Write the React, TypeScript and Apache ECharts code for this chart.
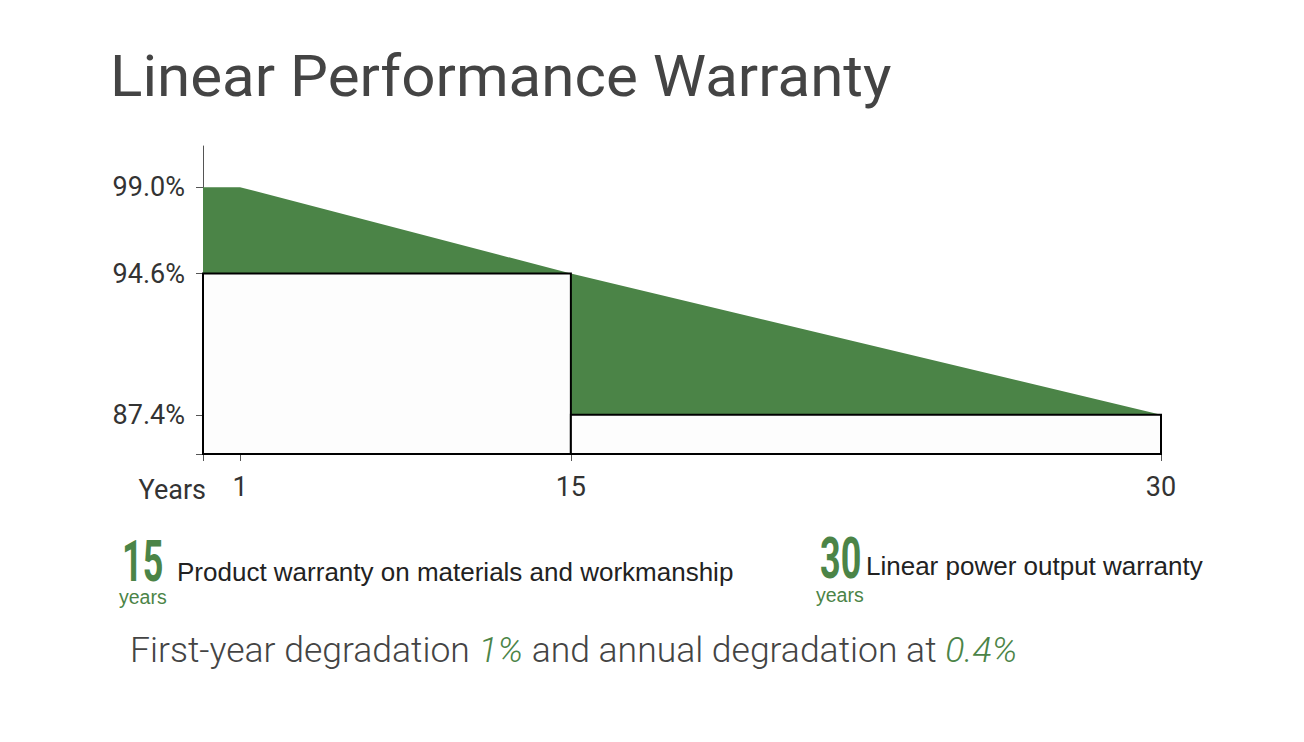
import React, { useEffect, useRef } from "react";
import * as echarts from "echarts";

// ---- data ----
const warrantyYears = [0, 1, 15, 30];
const warrantyValues = [99.0, 99.0, 94.6, 87.4];
const boxStartYears = [0, 15];
const boxEndYears = [15, 30];
const boxTopValues = [94.6, 87.4];
const yTickValues = [87.4, 94.6, 99.0];
const xTickYears = [1, 15, 30];
const yMin = 85.4;
const yMax = 101.1;

// non-uniform year scale of the original drawing (year -> axis unit)
const scaleYears = [0, 1, 15, 30];
const scaleUnits = [0, 1.16, 11.52, 30];
function warp(year: number): number {
  for (let i = 1; i < scaleYears.length; i++) {
    if (year <= scaleYears[i]) {
      const t = (year - scaleYears[i - 1]) / (scaleYears[i] - scaleYears[i - 1]);
      return scaleUnits[i - 1] + t * (scaleUnits[i] - scaleUnits[i - 1]);
    }
  }
  return scaleUnits[scaleUnits.length - 1];
}
function unwarpLabel(v: number): string {
  let best = 0;
  let bd = Infinity;
  scaleYears.forEach((y) => {
    const d = Math.abs(warp(y) - v);
    if (d < bd) {
      bd = d;
      best = y;
    }
  });
  return String(best);
}

const GREEN = "#4b8447";
const AXIS_GRAY = "#555";
const LABEL = "#333";

export default function App() {
  const ref = useRef<HTMLDivElement>(null);
  useEffect(() => {
    if (!ref.current) return;
    const chart = echarts.init(ref.current, undefined, { renderer: "svg" });
    const option: any = {
      animation: false,
      backgroundColor: "#ffffff",
      grid: { left: 203, right: 143, top: 146, bottom: 288 },
      xAxis: {
        type: "value",
        min: 0,
        max: 30,
        splitLine: { show: false },
        axisLine: { show: true, lineStyle: { color: AXIS_GRAY, width: 1 } },
        axisTick: {
          show: true,
          length: 7,
          lineStyle: { color: AXIS_GRAY, width: 1 },
          customValues: [0, ...xTickYears].map(warp),
        },
        axisLabel: {
          customValues: xTickYears.map(warp),
          formatter: (v: number) => unwarpLabel(v),
          color: LABEL,
          fontFamily: "Roboto",
          fontSize: 27,
          margin: 19,
        },
      },
      yAxis: {
        type: "value",
        min: yMin,
        max: yMax,
        splitLine: { show: false },
        axisLine: { show: true, lineStyle: { color: AXIS_GRAY, width: 1 } },
        axisTick: {
          show: true,
          length: 7,
          lineStyle: { color: AXIS_GRAY, width: 1 },
          customValues: [yMin, ...yTickValues],
        },
        axisLabel: {
          customValues: yTickValues,
          formatter: (v: number) => v.toFixed(1) + "%",
          color: LABEL,
          fontFamily: "Roboto",
          fontSize: 27,
          margin: 18,
        },
      },
      series: [
        {
          type: "line",
          data: warrantyYears.map((y, i) => [warp(y), warrantyValues[i]]),
          showSymbol: false,
          lineStyle: { width: 0 },
          areaStyle: { color: GREEN, opacity: 1, origin: "start" },
          z: 1,
        },
        {
          type: "custom",
          z: 5,
          data: boxStartYears.map((s, i) => [warp(s), warp(boxEndYears[i]), yMin, boxTopValues[i]]),
          encode: { x: [0, 1], y: [2, 3] },
          renderItem: (params: any, api: any) => {
            const p0 = api.coord([api.value(0), api.value(2)]);
            const p1 = api.coord([api.value(1), api.value(3)]);
            return {
              type: "rect",
              shape: { x: p0[0], y: p1[1], width: p1[0] - p0[0], height: p0[1] - p1[1] },
              style: { fill: "#fdfdfd", stroke: "#000", lineWidth: 2 },
            };
          },
        },
      ],
      graphic: [
        {
          type: "text",
          x: 110,
          y: 77,
          scaleX: 1.055,
          style: {
            text: "Linear Performance Warranty",
            fontFamily: "Roboto",
            fontWeight: 400,
            fontSize: 57,
            fill: "#444",
            verticalAlign: "middle",
          },
        },
        {
          type: "text",
          x: 206,
          y: 490,
          style: {
            text: "Years",
            fontFamily: "Roboto",
            fontSize: 27,
            fill: LABEL,
            align: "right",
            verticalAlign: "middle",
          },
        },
        {
          type: "text",
          x: 122,
          y: 561,
          scaleX: 0.62,
          style: {
            text: "15",
            fontFamily: "Roboto",
            fontWeight: "bold",
            fontSize: 58,
            fill: GREEN,
            verticalAlign: "middle",
          },
        },
        {
          type: "text",
          x: 119,
          y: 597,
          style: {
            text: "years",
            fontFamily: "Liberation Sans",
            fontSize: 19.5,
            fill: GREEN,
            verticalAlign: "middle",
          },
        },
        {
          type: "text",
          x: 177,
          y: 572,
          style: {
            text: "Product warranty on materials and workmanship",
            fontFamily: "Liberation Sans",
            fontSize: 26,
            fill: "#222",
            verticalAlign: "middle",
          },
        },
        {
          type: "text",
          x: 820,
          y: 558,
          scaleX: 0.62,
          style: {
            text: "30",
            fontFamily: "Roboto",
            fontWeight: "bold",
            fontSize: 58,
            fill: GREEN,
            verticalAlign: "middle",
          },
        },
        {
          type: "text",
          x: 816,
          y: 595,
          style: {
            text: "years",
            fontFamily: "Liberation Sans",
            fontSize: 19.5,
            fill: GREEN,
            verticalAlign: "middle",
          },
        },
        {
          type: "text",
          x: 866,
          y: 566,
          style: {
            text: "Linear power output warranty",
            fontFamily: "Liberation Sans",
            fontSize: 26,
            fill: "#222",
            verticalAlign: "middle",
          },
        },
        {
          type: "text",
          x: 130,
          y: 650,
          style: {
            text: "{a|First-year degradation }{b|1%}{a| and annual degradation at }{b|0.4%}",
            verticalAlign: "middle",
            rich: {
              a: { fontFamily: "Roboto", fontWeight: 300, fontSize: 35.5, fill: "#444", color: "#444" },
              b: { fontFamily: "Roboto", fontWeight: 300, fontStyle: "italic", fontSize: 35.5, fill: GREEN, color: GREEN },
            },
          },
        },
      ],
    };
    chart.setOption(option);
    return () => chart.dispose();
  }, []);
  return (
    <div
      ref={ref}
      style={{ position: "absolute", left: 0, top: 0, width: 1304, height: 742, background: "#fff" }}
    />
  );
}
